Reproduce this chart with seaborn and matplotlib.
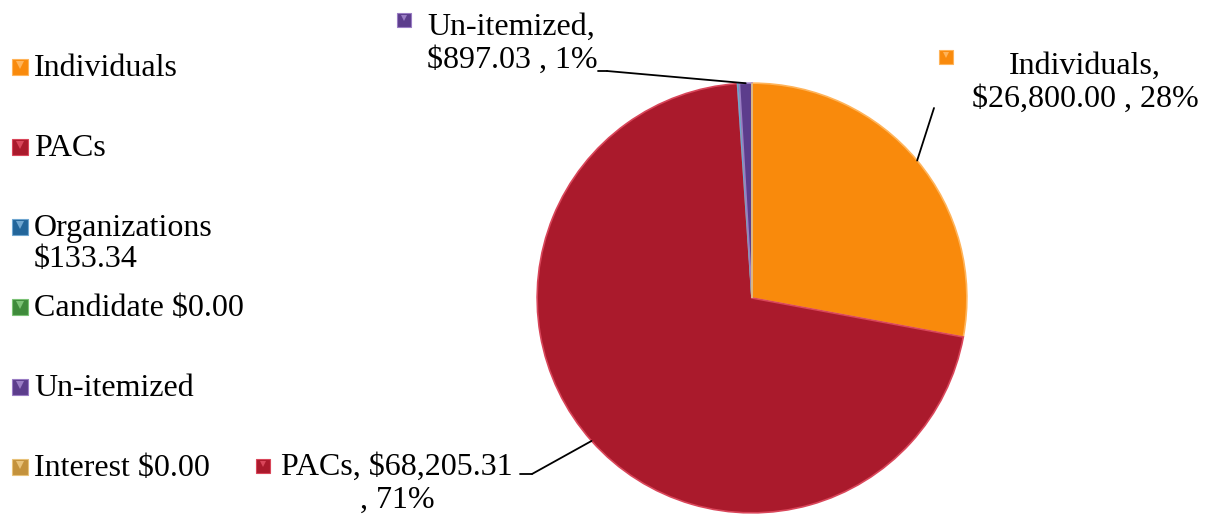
import numpy as np
import matplotlib.pyplot as plt
import seaborn as sns
from matplotlib.lines import Line2D

sources = ["Individuals", "PACs", "Organizations", "Candidate", "Un-itemized", "Interest"]
amounts = [26800.00, 68205.31, 133.34, 0.00, 897.03, 0.00]
legend_labels = ["Individuals", "PACs", "Organizations\n$133.34", "Candidate $0.00",
                 "Un-itemized", "Interest $0.00"]
slice_colors = ["#F98A0C", "#AA1A2C", "#22659A", "#3F8B3B", "#5C3D8C", "#C4923C"]
edge_colors = ["#FFB45A", "#D9465A", "#6FA6D0", "#7CC276", "#9A7DC4", "#E8C27A"]

sns.set_theme(style="white")
plt.rcParams["font.family"] = ["Liberation Serif", "DejaVu Serif"]
plt.rcParams["text.color"] = "black"

W, H = 1208, 519
fig = plt.figure(figsize=(W / 100, H / 100), dpi=100)


def px(x, y):
    # pixel position (from top left) -> figure fraction
    return x / W, 1 - y / H


# pie axes: centre ~ (752, 298), radius ~ 215 px
cx, cy, r = 752, 298, 217
ax = fig.add_axes([(cx - r) / W, 1 - (cy + r) / H, 2 * r / W, 2 * r / H])
wedges, _ = ax.pie(amounts, colors=slice_colors, startangle=90, counterclock=False,
                   radius=1, wedgeprops=dict(linewidth=1.2))
for w, ec in zip(wedges, edge_colors):
    w.set_edgecolor(ec)
ax.set_xlim(-1.01, 1.01)
ax.set_ylim(-1.01, 1.01)
ax.set_aspect("equal")
ax.axis("off")


def edge_point(i):
    w = wedges[i]
    ang = np.deg2rad((w.theta1 + w.theta2) / 2)
    return np.cos(ang), np.sin(ang)


def bevel_marker(x, y, col, ec, size):
    fig.add_artist(Line2D([px(x, y)[0]], [px(x, y)[1]], marker="s", markersize=size,
                          color=col, markeredgecolor=ec, markeredgewidth=0.8,
                          transform=fig.transFigure))
    fig.add_artist(Line2D([px(x, y)[0]], [px(x, y - size * 0.2)[1]], marker="v",
                          markersize=size * 0.5, color=ec, markeredgewidth=0,
                          transform=fig.transFigure))


total = sum(amounts)
lbl_font = 23
line_kw = dict(arrowstyle="-", color="black", lw=1.3, shrinkA=0, shrinkB=0)

# data labels: (slice index, text anchor, ha, marker pos, leader start, optional tail)
callouts = [
    (0, (1085, 83), "center", (946, 57), (934, 108), None),
    (4, (427, 44), "left", (404, 20), (607, 71), (598, 71)),
    (1, (397, 484), "center", (263, 466), (532, 474), (520, 474)),
]
for i, tpos, ha, mpos, lstart, tail in callouts:
    pct = amounts[i] / total * 100
    if i == 1:
        txt = f"{sources[i]}, ${amounts[i]:,.2f}\n, {pct:.0f}%"
    else:
        txt = f"{sources[i]},\n${amounts[i]:,.2f} , {pct:.0f}%"
    fig.text(*px(*tpos), txt, ha=ha, va="center", fontsize=lbl_font,
             linespacing=1.2, multialignment="center" if ha == "center" else "left")
    bevel_marker(*mpos, slice_colors[i], edge_colors[i], 10)
    ax.annotate("", xy=edge_point(i), xycoords="data", xytext=px(*lstart),
                textcoords="figure fraction", arrowprops=line_kw)
    if tail is not None:
        x0, y0 = px(*tail)
        x1, y1 = px(*lstart)
        fig.add_artist(Line2D([x0, x1], [y0, y1], color="black", lw=1.3,
                              transform=fig.transFigure))

# legend on the left
for k, (lab, col, ec) in enumerate(zip(legend_labels, slice_colors, edge_colors)):
    ymid = 67 + 80 * k
    bevel_marker(20, ymid, col, ec, 12)
    fig.text(*px(34, ymid - 13), lab, ha="left", va="top", fontsize=lbl_font,
             linespacing=1.1)

fig.savefig("out.png", dpi=100)
